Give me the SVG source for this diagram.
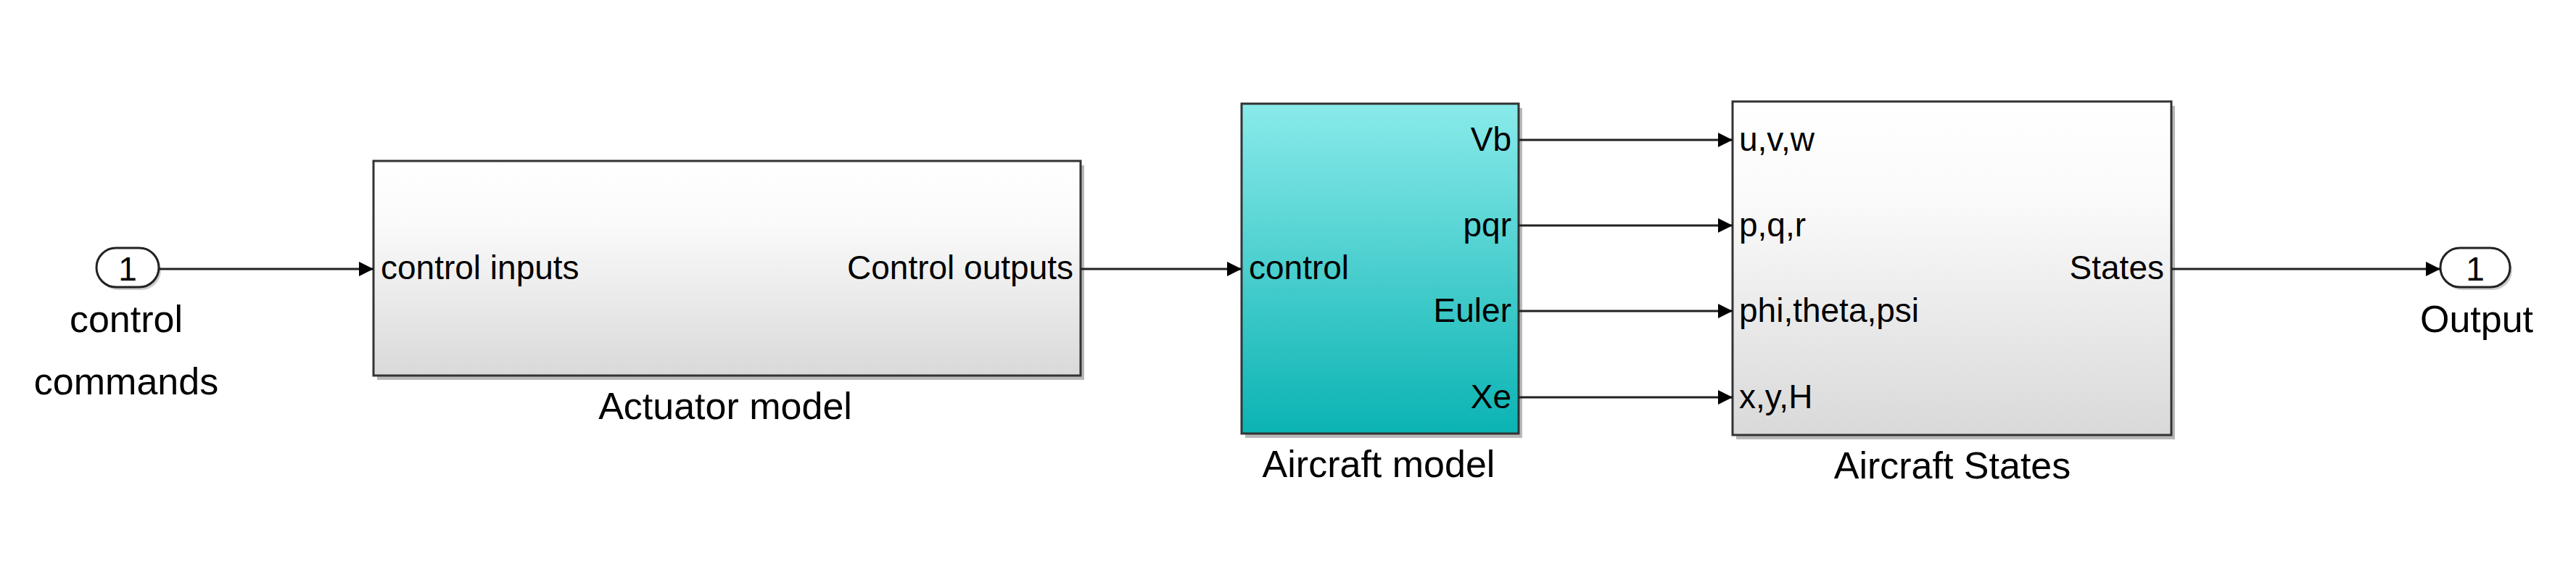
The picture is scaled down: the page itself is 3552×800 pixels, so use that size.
<svg xmlns="http://www.w3.org/2000/svg" width="3552" height="800" viewBox="0 0 3552 800">
<defs>
<linearGradient id="gw" x1="0" y1="0" x2="0" y2="1"><stop offset="0" stop-color="#ffffff"/><stop offset="0.3" stop-color="#fafafa"/><stop offset="1" stop-color="#d9d9d9"/></linearGradient>
<linearGradient id="gc" x1="0" y1="0" x2="0" y2="1"><stop offset="0" stop-color="#8aeaea"/><stop offset="1" stop-color="#0bb3b3"/></linearGradient>
<marker id="ah" viewBox="0 0 10 10" refX="10" refY="5" markerWidth="20" markerHeight="20" markerUnits="userSpaceOnUse" orient="auto"><path d="M0,0 L10,5 L0,10 z" fill="#000"/></marker>
<style>
.blk{stroke:#333;stroke-width:3}
.sh{fill:#888;opacity:0.6}
text{font-family:"Liberation Sans",Arial,sans-serif;font-size:46px;fill:#000}
.t{font-size:52px}
.c{stroke:#222;stroke-width:3;fill:none;marker-end:url(#ah)}
</style>
</defs>
<g id="inport">
<rect x="136" y="346" width="86" height="54" rx="27" fill="#999" opacity="0.5"/>
<rect x="133" y="342" width="86" height="54" rx="27" fill="#fff" stroke="#222" stroke-width="3"/>
<text x="176" y="387" text-anchor="middle">1</text>
<text class="t" x="174" y="458" text-anchor="middle">control</text>
<text class="t" x="174" y="544" text-anchor="middle">commands</text>
</g>
<g id="actuator">
<rect class="sh" x="520" y="228" width="975" height="296"/>
<rect class="blk" x="515" y="222" width="975" height="296" fill="url(#gw)"/>
<text x="525" y="385">control  inputs</text>
<text x="1480" y="385" text-anchor="end">Control outputs</text>
<text class="t" x="1000" y="578" text-anchor="middle">Actuator model</text>
</g>
<g id="aircraft">
<rect class="sh" x="1717" y="149" width="382" height="455"/>
<rect class="blk" x="1712" y="143" width="382" height="455" fill="url(#gc)"/>
<text x="1722" y="385">control</text>
<text x="2084" y="208" text-anchor="end">Vb</text>
<text x="2084" y="326" text-anchor="end">pqr</text>
<text x="2084" y="444" text-anchor="end">Euler</text>
<text x="2084" y="563" text-anchor="end">Xe</text>
<text class="t" x="1901" y="658" text-anchor="middle">Aircraft model</text>
</g>
<g id="states">
<rect class="sh" x="2394" y="146" width="605" height="460"/>
<rect class="blk" x="2389" y="140" width="605" height="460" fill="url(#gw)"/>
<text x="2398" y="208">u,v,w</text>
<text x="2398" y="326">p,q,r</text>
<text x="2398" y="444">phi,theta,psi</text>
<text x="2398" y="563">x,y,H</text>
<text x="2984" y="385" text-anchor="end">States</text>
<text class="t" x="2692" y="660" text-anchor="middle">Aircraft States</text>
</g>
<g id="outport">
<rect x="3368" y="346" width="96" height="54" rx="27" fill="#999" opacity="0.5"/>
<rect x="3365" y="342" width="96" height="54" rx="27" fill="#fff" stroke="#222" stroke-width="3"/>
<text x="3413" y="387" text-anchor="middle">1</text>
<text class="t" x="3415" y="458" text-anchor="middle">Output</text>
</g>
<g id="connectors">
<path class="c" d="M219,371 H515"/>
<path class="c" d="M1490,371 H1712"/>
<path class="c" d="M2094,193 H2389"/>
<path class="c" d="M2094,311 H2389"/>
<path class="c" d="M2094,429 H2389"/>
<path class="c" d="M2094,548 H2389"/>
<path class="c" d="M2994,371 H3365"/>
</g>
</svg>
